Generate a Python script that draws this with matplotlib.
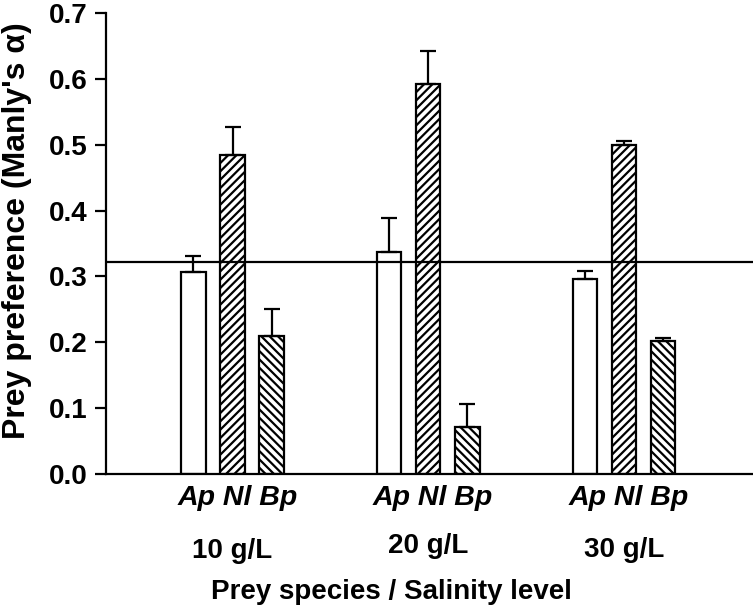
import matplotlib
matplotlib.use("Agg")
import matplotlib.pyplot as plt
import numpy as np

plt.rcParams['font.family'] = ['Liberation Sans', 'DejaVu Sans']
plt.rcParams['hatch.linewidth'] = 1.6

salinity = ['10 g/L', '20 g/L', '30 g/L']
species = ['Ap', 'Nl', 'Bp']
ap_mean = [0.307, 0.337, 0.296]
nl_mean = [0.484, 0.592, 0.500]
bp_mean = [0.210, 0.071, 0.202]
ap_err = [0.024, 0.052, 0.013]
nl_err = [0.043, 0.051, 0.006]
bp_err = [0.041, 0.036, 0.005]
threshold = 0.322

fig = plt.figure(figsize=(7.53, 6.13), dpi=100)
ax = fig.add_axes([106/753, 1 - 474/613, 1 - 106/753, (474 - 13)/613])

x = np.arange(1, 4)
off = 0.2
w = 0.125
means = [ap_mean, nl_mean, bp_mean]
errs = [ap_err, nl_err, bp_err]
hatches = ['', '////', '\\\\\\\\']
for i in range(3):
    ax.bar(x + (i - 1) * off, means[i], w, yerr=[np.zeros(3), errs[i]],
           color='white', edgecolor='black', linewidth=1.6, hatch=hatches[i],
           error_kw=dict(ecolor='black', elinewidth=1.6, capsize=5.5, capthick=1.6),
           zorder=2)

ax.axhline(threshold, color='black', linewidth=1.6, zorder=3)

ax.set_xlim(0.353, 3.66)
ax.set_ylim(0, 0.7)
ax.set_yticks(np.arange(0, 0.71, 0.1))
ax.set_yticklabels([f'{v:.1f}' for v in np.arange(0, 0.71, 0.1)],
                   fontsize=20, fontweight='bold')
ax.tick_params(axis='y', direction='out', length=8, width=1.6, pad=5)
ax.set_xticks(x + 0.025)
ax.set_xticklabels([' '.join(species)] * 3, fontsize=20.5, fontweight='bold',
                   fontstyle='italic')
ax.tick_params(axis='x', length=0, pad=8)
# the middle label sits a little higher in the original
for xi, lab, yl in zip(x, salinity, [-0.127, -0.120, -0.126]):
    ax.text(xi, yl, lab, fontsize=20, fontweight='bold', ha='center',
            va='baseline', transform=ax.transData, clip_on=False)

ax.spines['top'].set_visible(False)
ax.spines['right'].set_visible(False)
ax.spines['left'].set_linewidth(1.6)
ax.spines['bottom'].set_linewidth(1.6)

fig.text(391.5/753, 1 - 599/613, 'Prey species / Salinity level', fontsize=20,
         fontweight='bold', ha='center', va='baseline')
fig.text(17/753, 1 - 231/613, "Prey preference (Manly's α)", fontsize=23,
         fontweight='bold', ha='center', va='center', rotation=90)

fig.savefig('out.png', dpi=100)
